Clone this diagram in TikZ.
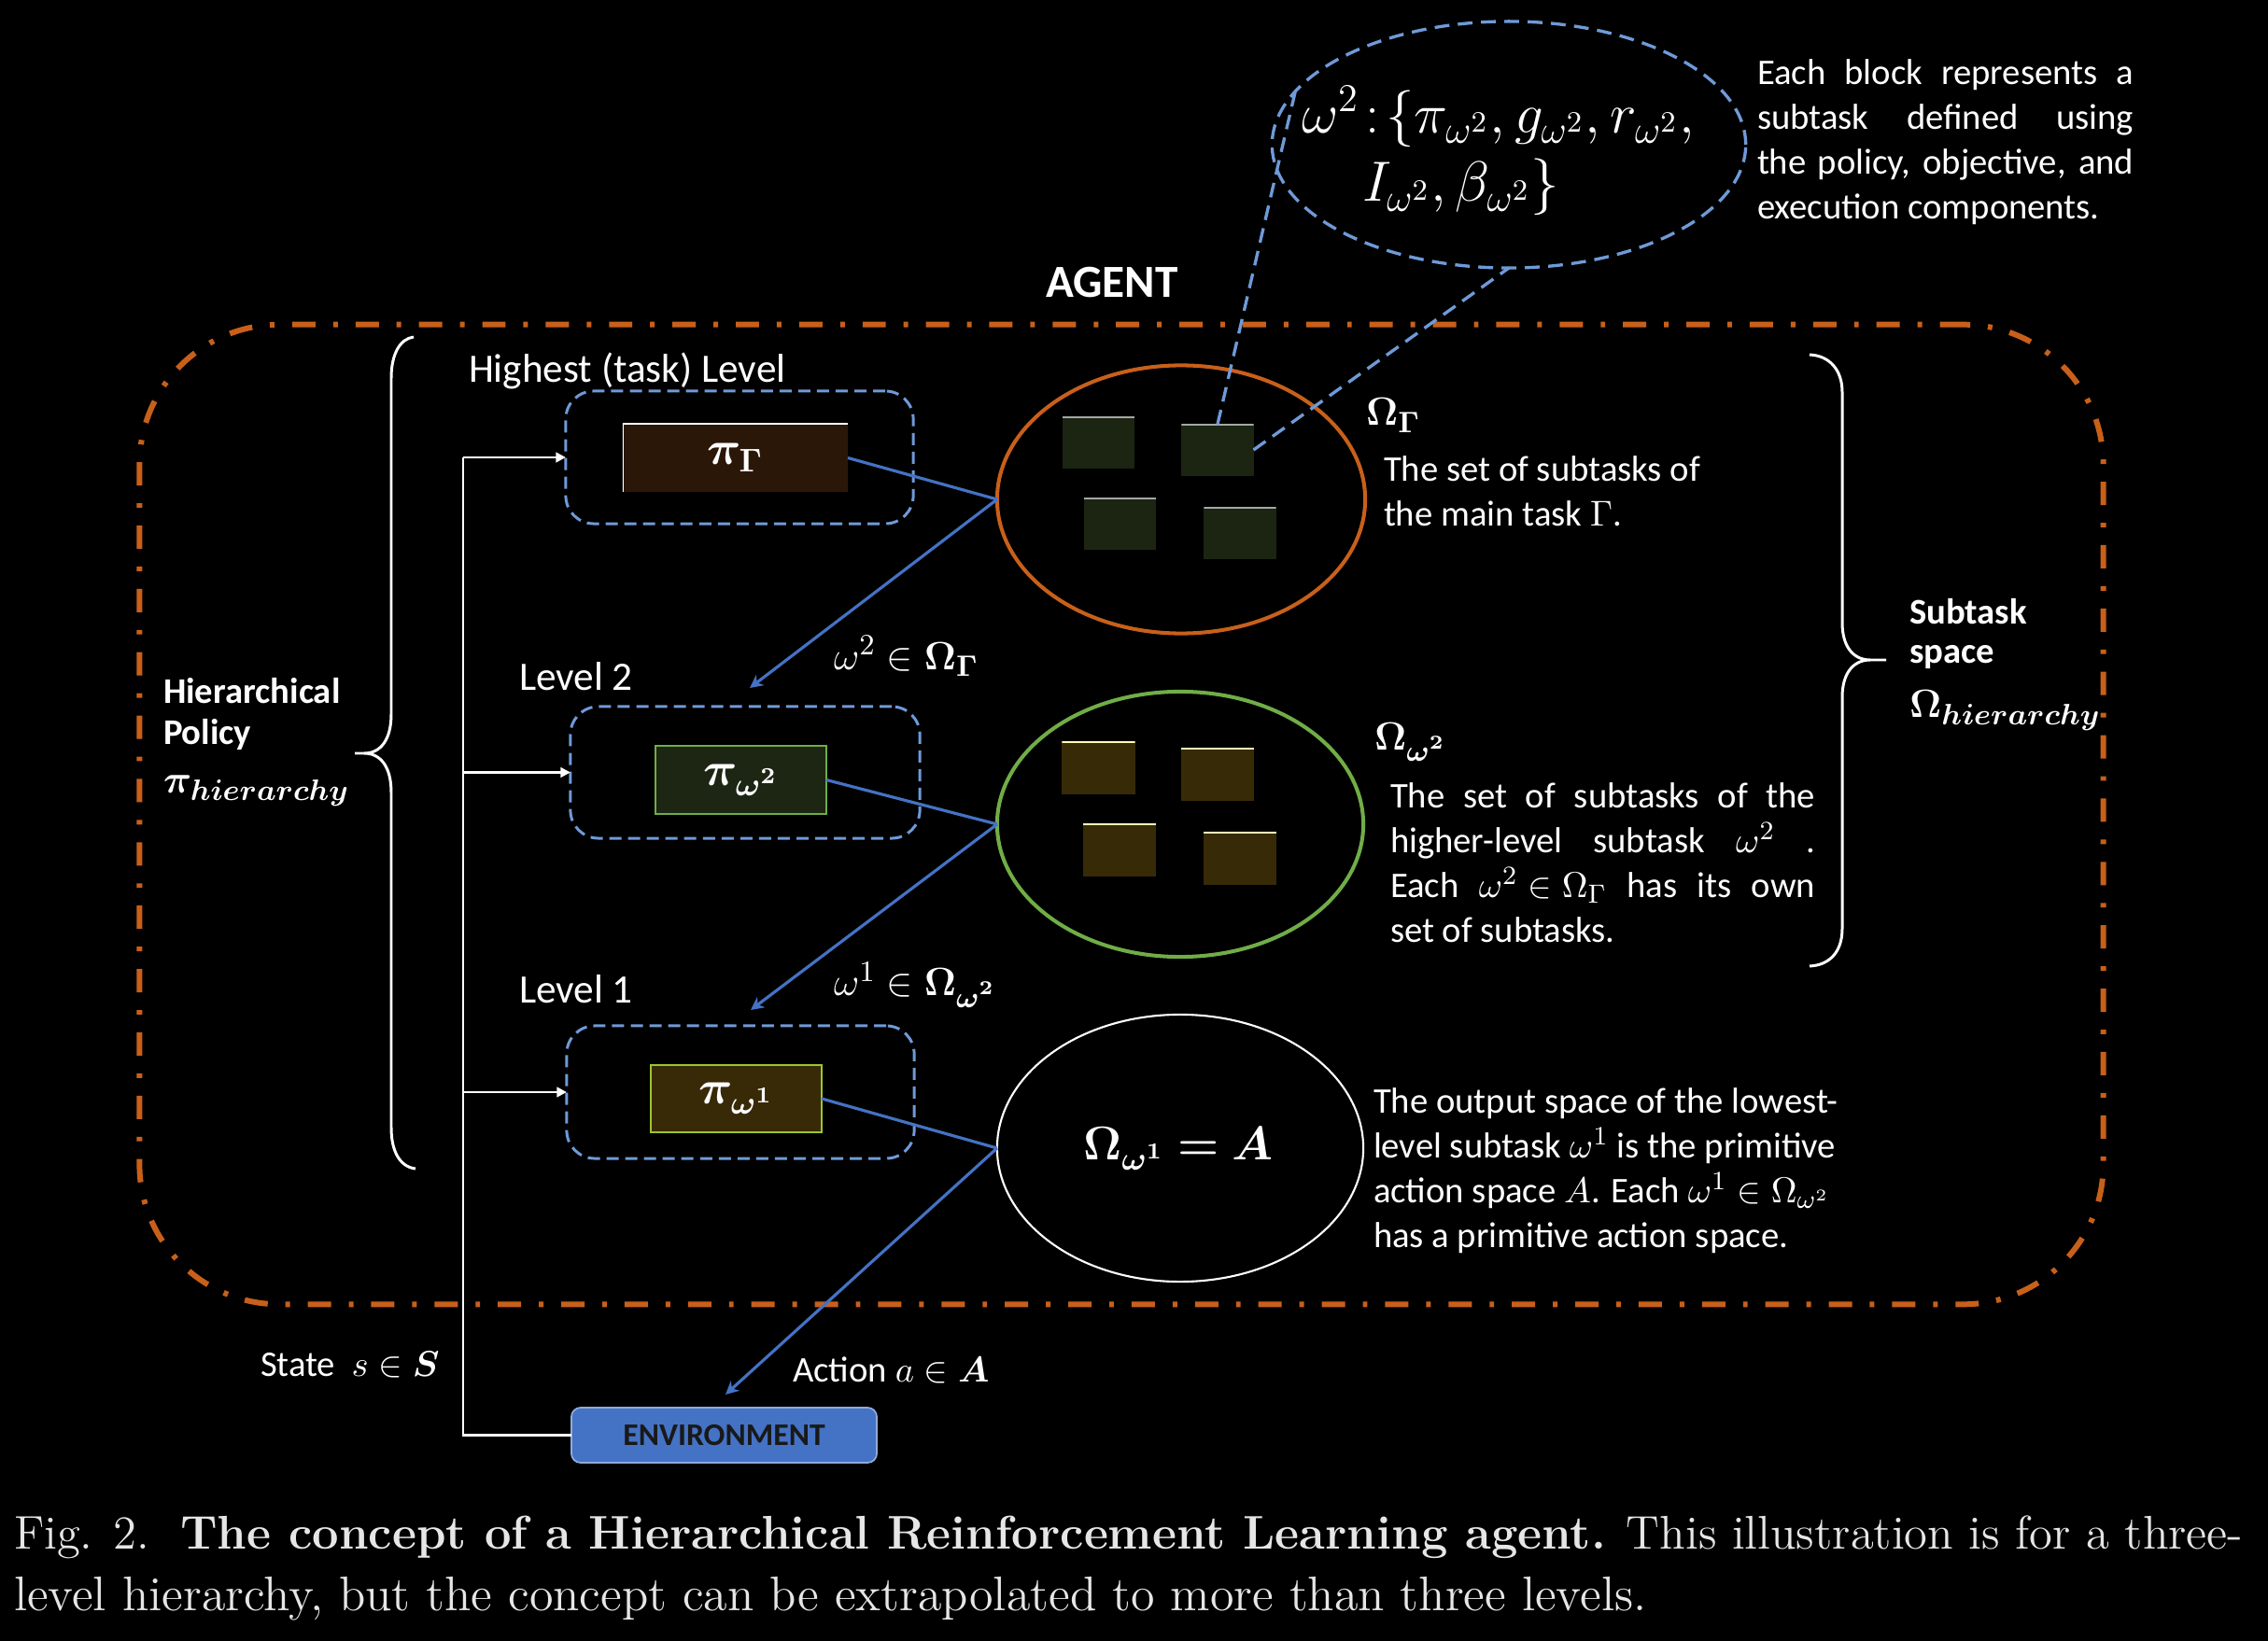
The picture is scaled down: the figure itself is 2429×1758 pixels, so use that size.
\documentclass[tikz,border=0pt]{standalone}
\usepackage[no-math]{fontspec}
\usepackage{amsmath,amssymb,bm}
\newfontfamily\calib{Carlito}
\usetikzlibrary{shapes.geometric,arrows.meta}
\definecolor{orng}{HTML}{C8601A}
\definecolor{dashblue}{HTML}{6F9AD8}
\definecolor{connblue}{HTML}{4472C4}
\definecolor{grn}{HTML}{70AD47}
\definecolor{brownfill}{HTML}{2B1708}
\definecolor{greenfill}{HTML}{1D2613}
\definecolor{olivefill}{HTML}{382A07}
\definecolor{sqgreen}{HTML}{1B2512}
\definecolor{sqolive}{HTML}{372A06}
\definecolor{envfill}{HTML}{4472C4}
\definecolor{envline}{HTML}{8FAADC}
\definecolor{capgray}{HTML}{E6E6E6}
\begin{document}
\begin{tikzpicture}[x=0.01cm,y=-0.01cm,
  every node/.style={inner sep=0pt, outer sep=0pt},
  body/.style={text=white, font={\calib\fontsize{11}{13.6}\selectfont}, align=left, anchor=west},
  lvllab/.style={text=white, font={\calib\fontsize{12.3}{14}\selectfont}, anchor=west},
  boldlab/.style={text=white, font={\calib\bfseries\fontsize{11}{13.4}\selectfont}, anchor=west},
  mathlab/.style={text=white, font={\fontsize{12.5}{15}\selectfont}, anchor=west},
  lvlbox/.style={draw=dashblue, line width=0.85pt, dash pattern=on 3.7pt off 2pt, rounded corners=0.3cm},
  pbox/.style={text=white, font={\fontsize{14.5}{16}\selectfont}, minimum width=1.83cm, minimum height=0.73cm},
  sqA/.style={fill=sqgreen, minimum width=0.77cm, minimum height=0.55cm,
     path picture={\draw[gray!70, line width=0.6pt] (path picture bounding box.north west) -- (path picture bounding box.north east);}},
  sqB/.style={fill=sqolive, minimum width=0.78cm, minimum height=0.56cm,
     path picture={\draw[yellow!30!white, line width=0.6pt] (path picture bounding box.north west) -- (path picture bounding box.north east);}},
  conn/.style={draw=connblue, line width=0.9pt},
  arr/.style={conn, -{Stealth[length=4pt, width=4pt, inset=1.3pt]}},
  cdash/.style={draw=dashblue, line width=0.95pt, dash pattern=on 4.5pt off 2.6pt},
  wline/.style={draw=white, line width=0.85pt},
  warr/.style={wline, -{Triangle[length=3pt, width=3pt]}},
  brace/.style={draw=white, line width=0.85pt}
]
\fill[black] (0,0) rectangle (2429,1758);
\useasboundingbox (0,0) rectangle (2429,1758);

% agent boundary
\node[draw=orng, line width=1.7pt, dash pattern=on 7.1pt off 5.4pt on 1.4pt off 5.4pt,
  rounded corners=1.5cm, minimum width=21.02cm, minimum height=10.49cm] (agent) at (1201,872.5) {};
\node[text=white, font={\calib\bfseries\fontsize{14}{16}\selectfont}] (agentlab) at (1191,303) {AGENT};

% level boxes
\node[lvlbox, minimum width=3.72cm, minimum height=1.42cm] (B1) at (792,490) {};
\node[lvlbox, minimum width=3.74cm, minimum height=1.41cm] (B2) at (798,827.5) {};
\node[lvlbox, minimum width=3.72cm, minimum height=1.42cm] (B3) at (793,1170) {};
\node[lvllab] (l3) at (502,397) {Highest (task) Level};
\node[lvllab] (l2) at (556,725) {Level 2};
\node[lvllab] (l1) at (556,1060) {Level 1};

% policy boxes
\node[pbox, fill=brownfill, minimum width=2.41cm,
  path picture={\draw[white, line width=0.8pt] (path picture bounding box.south west) -- (path picture bounding box.north west) -- (path picture bounding box.north east);}]
  (pG) at (787.5,490.5) {$\bm{\pi_{\Gamma}}$};
\node[pbox, fill=greenfill, draw=grn, line width=0.5pt] (pW2) at (793.5,835.5) {$\bm{\pi_{\omega^2}}$};
\node[pbox, fill=olivefill, draw=grn!70!yellow, line width=0.5pt, minimum height=0.72cm] (pW1) at (788.5,1177) {$\bm{\pi_{\omega^1}}$};

% ellipses
\node[ellipse, draw=orng, line width=1.15pt, minimum width=3.94cm, minimum height=2.87cm] (E1) at (1265,535) {};
\node[ellipse, draw=grn, line width=1.15pt, minimum width=3.92cm, minimum height=2.84cm] (E2) at (1264,883) {};
\node[ellipse, draw=white, line width=0.6pt, minimum width=3.92cm, minimum height=2.86cm] (E3) at (1264,1230) {};
\node[text=white, font={\fontsize{14}{16}\selectfont}] (omA) at (1262,1231) {$\bm{\Omega_{\omega^1}=A}$};

% subtask squares
\node[sqA] (s1) at (1176.5,474.5) {};
\node[sqA] (s2) at (1304,482) {};
\node[sqA] (s3) at (1199.5,561.5) {};
\node[sqA] (s4) at (1328,571.5) {};
\node[sqB] (t1) at (1176.5,823) {};
\node[sqB] (t2) at (1304,830) {};
\node[sqB] (t3) at (1199,911) {};
\node[sqB] (t4) at (1328,920) {};

% callout ellipse
\node[ellipse, cdash, minimum width=5.07cm, minimum height=2.64cm] (Ctop) at (1616,155) {};
\draw[cdash] (s2.north) -- (Ctop.166);
\draw[cdash] (s2.east) -- (Ctop.south);
\node[text=white, font={\fontsize{17.6}{20}\selectfont}, anchor=west] (cm1) at (1394,125) {$\omega^2\!:\!\{\pi_{\omega^2},g_{\omega^2},r_{\omega^2},$};
\node[text=white, font={\fontsize{17.6}{20}\selectfont}, anchor=west] (cm2) at (1459,200) {$I_{\omega^2},\beta_{\omega^2}\}$};
\node[body] (ctext) at (1882,152) {\makebox[4.03cm][s]{Each block represents a}\\\makebox[4.03cm][s]{subtask defined using}\\\makebox[4.03cm][s]{the policy, objective, and}\\execution components.};

% right-side texts
\node[mathlab] (oG) at (1463,445) {$\bm{\Omega_{\Gamma}}$};
\node[body] (d1) at (1482,526) {The set of subtasks of\\the main task $\Gamma$.};
\node[mathlab] (oW2) at (1472,795) {$\bm{\Omega_{\omega^2}}$};
\node[body] (d2) at (1489,924) {\makebox[4.55cm][s]{The set of subtasks of the}\\\makebox[4.55cm][s]{higher-level subtask \hbox{$\omega^2$} .}\\\makebox[4.55cm][s]{Each \hbox{$\omega^2\in\Omega_\Gamma$} has its own}\\set of subtasks.};
\node[body] (d3) at (1471,1254) {The output space of the lowest-\\level subtask $\omega^1$ is the primitive\\action space $A$. Each $\omega^1\in\Omega_{\omega^2}$\\has a primitive action space.};

% connectors
\coordinate (a2) at (803,737);
\coordinate (a1) at (804,1082);
\coordinate (aEnv) at (777,1494);
\draw[conn] (pG.east) -- (E1.west);
\draw[arr] (E1.west) -- (a2);
\draw[conn] (pW2.east) -- (E2.west);
\draw[arr] (E2.west) -- (a1);
\draw[conn] (pW1.east) -- (E3.west);
\draw[arr] (E3.west) -- (aEnv);
\node[mathlab] (lab2) at (893,703) {$\omega^2\in\bm{\Omega_{\Gamma}}$};
\node[mathlab] (lab1) at (893,1055) {$\omega^1\in\bm{\Omega_{\omega^2}}$};

% environment and state bus
\node[fill=envfill, draw=envline, line width=0.5pt, rounded corners=0.1cm, minimum width=3.27cm, minimum height=0.59cm,
  font={\calib\bfseries\fontsize{9.6}{11}\selectfont}, text=black!90] (env) at (775.5,1537.5) {ENVIRONMENT};
\coordinate (bus) at (496,490);
\draw[wline] (env.west) -| (bus);
\draw[warr] (bus) -- (B1.west);
\draw[warr] (B2.west -| bus) -- (B2.west);
\draw[warr] (B3.west -| bus) -- (B3.west);
\node[text=white, font={\calib\fontsize{11}{13}\selectfont}, anchor=west] (state) at (279,1462) {State~~$s\in\bm{S}$};
\node[text=white, font={\calib\fontsize{11}{13}\selectfont}, anchor=west] (action) at (849,1468) {Action $a\in\bm{A}$};

% left brace
\draw[brace] (443,361) .. controls (428,363) and (419,380) .. (419,405) -- (419,765)
  .. controls (419,792) and (408,807) .. (390,807) -- (380,807)
  (390,807) .. controls (408,807) and (419,822) .. (419,849) -- (419,1208)
  .. controls (419,1233) and (428,1250) .. (445,1252);
\node[boldlab] (hp1) at (175,740) {Hierarchical};
\node[boldlab] (hp2) at (175,787) {Policy};
\node[text=white, font={\fontsize{13}{15}\selectfont}, anchor=west] (hp3) at (175,847) {$\bm{\pi_{hierarchy}}$};

% right brace
\draw[brace] (1938,380) .. controls (1960,381) and (1973,397) .. (1973,420) -- (1973,667)
  .. controls (1973,693) and (1985,707) .. (2003,707) -- (2020,707)
  (2003,707) .. controls (1985,707) and (1973,721) .. (1973,747) -- (1973,995)
  .. controls (1973,1019) and (1960,1034) .. (1938,1035);
\node[boldlab] (ss1) at (2045,655) {Subtask};
\node[boldlab] (ss2) at (2045,704) {space};
\node[text=white, font={\fontsize{13}{15}\selectfont}, anchor=west] (ss3) at (2045,761) {$\bm{\Omega_{hierarchy}}$};

% caption
\node[text=capgray, font={\fontsize{14.4}{17}\selectfont}, anchor=west] (cap1) at (15,1647) {Fig. 2.\ \ \textbf{The concept of a Hierarchical Reinforcement Learning agent.} This illustration is for a three-};
\node[text=capgray, font={\fontsize{14.8}{17}\selectfont}, anchor=west] (cap2) at (15,1713) {level hierarchy, but the concept can be extrapolated to more than three levels.};
\end{tikzpicture}
\end{document}
